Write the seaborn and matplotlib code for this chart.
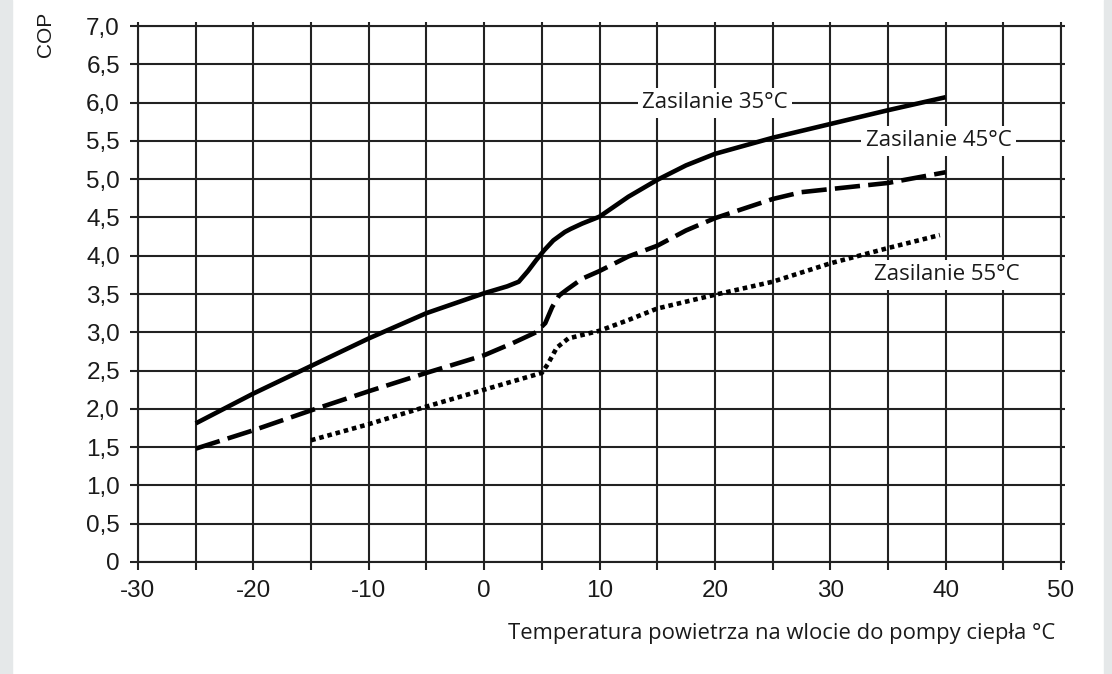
import numpy as np
import pandas as pd
import matplotlib
matplotlib.use("Agg")
import matplotlib.pyplot as plt
from matplotlib.patches import Rectangle
import seaborn as sns

# Dane
temp_35 = [-25, -20, -15, -10, -5, 0, 2.0, 3.0, 3.8, 4.5, 5.2, 6, 7, 7.5, 8.5, 10, 12.5, 15, 17.5, 20, 25, 30, 35, 40]
cop_35 = [1.81, 2.20, 2.56, 2.92, 3.25, 3.51, 3.60, 3.66, 3.80, 3.94, 4.07, 4.20, 4.31, 4.35, 4.42, 4.51, 4.77, 4.99, 5.18, 5.33, 5.54, 5.72, 5.90, 6.07]

temp_45 = [-25, -20, -15, -10, -5, 0, 2.5, 4.5, 5.3, 5.9, 6.5, 7.2, 8.5, 10, 12.5, 15, 17.5, 20, 25, 27.5, 30, 35, 40]
cop_45 = [1.48, 1.72, 1.98, 2.23, 2.47, 2.70, 2.86, 3.00, 3.12, 3.33, 3.48, 3.56, 3.70, 3.80, 3.99, 4.13, 4.33, 4.49, 4.74, 4.83, 4.87, 4.95, 5.09]

temp_55 = [-15, -10, -5, 0, 5, 5.5, 6.3, 7.3, 10, 12.5, 15, 17.5, 20, 25, 30, 35, 39.5]
cop_55 = [1.59, 1.80, 2.03, 2.25, 2.47, 2.58, 2.80, 2.92, 3.02, 3.16, 3.31, 3.40, 3.49, 3.66, 3.90, 4.10, 4.27]

x_ticks = list(range(-30, 51, 10))
x_grid = list(range(-30, 51, 5))
y_ticks = [0, 0.5, 1.0, 1.5, 2.0, 2.5, 3.0, 3.5, 4.0, 4.5, 5.0, 5.5, 6.0, 6.5, 7.0]
y_labels = ["0", "0,5", "1,0", "1,5", "2,0", "2,5", "3,0", "3,5", "4,0", "4,5", "5,0", "5,5", "6,0", "6,5", "7,0"]

etykiety = ["Zasilanie 35°C", "Zasilanie 45°C", "Zasilanie 55°C"]
etykiety_x = [20, 39.4, 40.1]
etykiety_y = [6.0, 5.5, 3.75]

sns.set_style("white")
plt.rcParams["font.family"] = ["Liberation Sans", "DejaVu Sans"]

siatka = "#222222"
fig = plt.figure(figsize=(11.12, 6.74), dpi=100)
ax = fig.add_axes([138 / 1112, 1 - 562 / 674, (1061 - 138) / 1112, (562 - 26) / 674])

# szare marginesy jak na zrzucie
for x0, w in [(0, 12 / 1112), (1104 / 1112, 8 / 1112)]:
    fig.patches.append(Rectangle((x0, 0), w, 1, transform=fig.transFigure,
                                 color="#e5e8e9", zorder=0))

df35 = pd.DataFrame({"t": temp_35, "cop": cop_35})
df45 = pd.DataFrame({"t": temp_45, "cop": cop_45})
df55 = pd.DataFrame({"t": temp_55, "cop": cop_55})

sns.lineplot(data=df35, x="t", y="cop", ax=ax, color="black", lw=3.3,
             errorbar=None, solid_capstyle="butt", solid_joinstyle="round", zorder=3)
sns.lineplot(data=df45, x="t", y="cop", ax=ax, color="black", lw=3.3,
             errorbar=None, linestyle=(0, (5.5, 1.8)), dash_capstyle="butt", zorder=3)
sns.lineplot(data=df55, x="t", y="cop", ax=ax, color="black", lw=3.3,
             errorbar=None, linestyle=(0, (1, 0.85)), dash_capstyle="butt", zorder=3)

ax.set_xlim(-30, 50)
ax.set_ylim(0, 7)
ax.set_xticks(x_grid)
ax.set_xticklabels([str(v) if v % 10 == 0 else "" for v in x_grid])
ax.set_yticks(y_ticks)
ax.set_yticklabels(y_labels)
ax.grid(True, color=siatka, lw=1.5)
ax.set_axisbelow(True)
for s in ax.spines.values():
    s.set_color(siatka)
    s.set_linewidth(1.5)

ax.tick_params(axis="both", direction="out", length=6, width=1.5, color=siatka,
               labelsize=17.5, labelcolor="#1a1a1a", pad=7,
               top=True, right=True, bottom=True, left=True)
for t in ax.xaxis.get_major_ticks():
    t.tick2line.set_markersize(3)
for t in ax.yaxis.get_major_ticks():
    t.tick2line.set_markersize(3)

ax.set_xlabel("")
ax.set_ylabel("")

for txt, tx, ty in zip(etykiety, etykiety_x, etykiety_y):
    ax.text(tx, ty, txt, ha="center", va="center", fontsize=16,
            family=["Open Sans", "DejaVu Sans"], color="#1a1a1a", zorder=5,
            bbox=dict(boxstyle="square,pad=0.2", fc="white", ec="none"))

fig.text(1055 / 1112, 1 - 633 / 674, "Temperatura powietrza na wlocie do pompy ciepła °C",
         ha="right", va="center", fontsize=15.8, family=["Open Sans", "DejaVu Sans"],
         color="#1a1a1a")
fig.text(45 / 1112, 1 - 34 / 674, "COP", rotation=90, ha="center", va="center",
         fontsize=15, family=["Liberation Sans Narrow", "Liberation Sans", "DejaVu Sans"],
         color="#1a1a1a")

fig.savefig("out.png", dpi=100, facecolor="white")
